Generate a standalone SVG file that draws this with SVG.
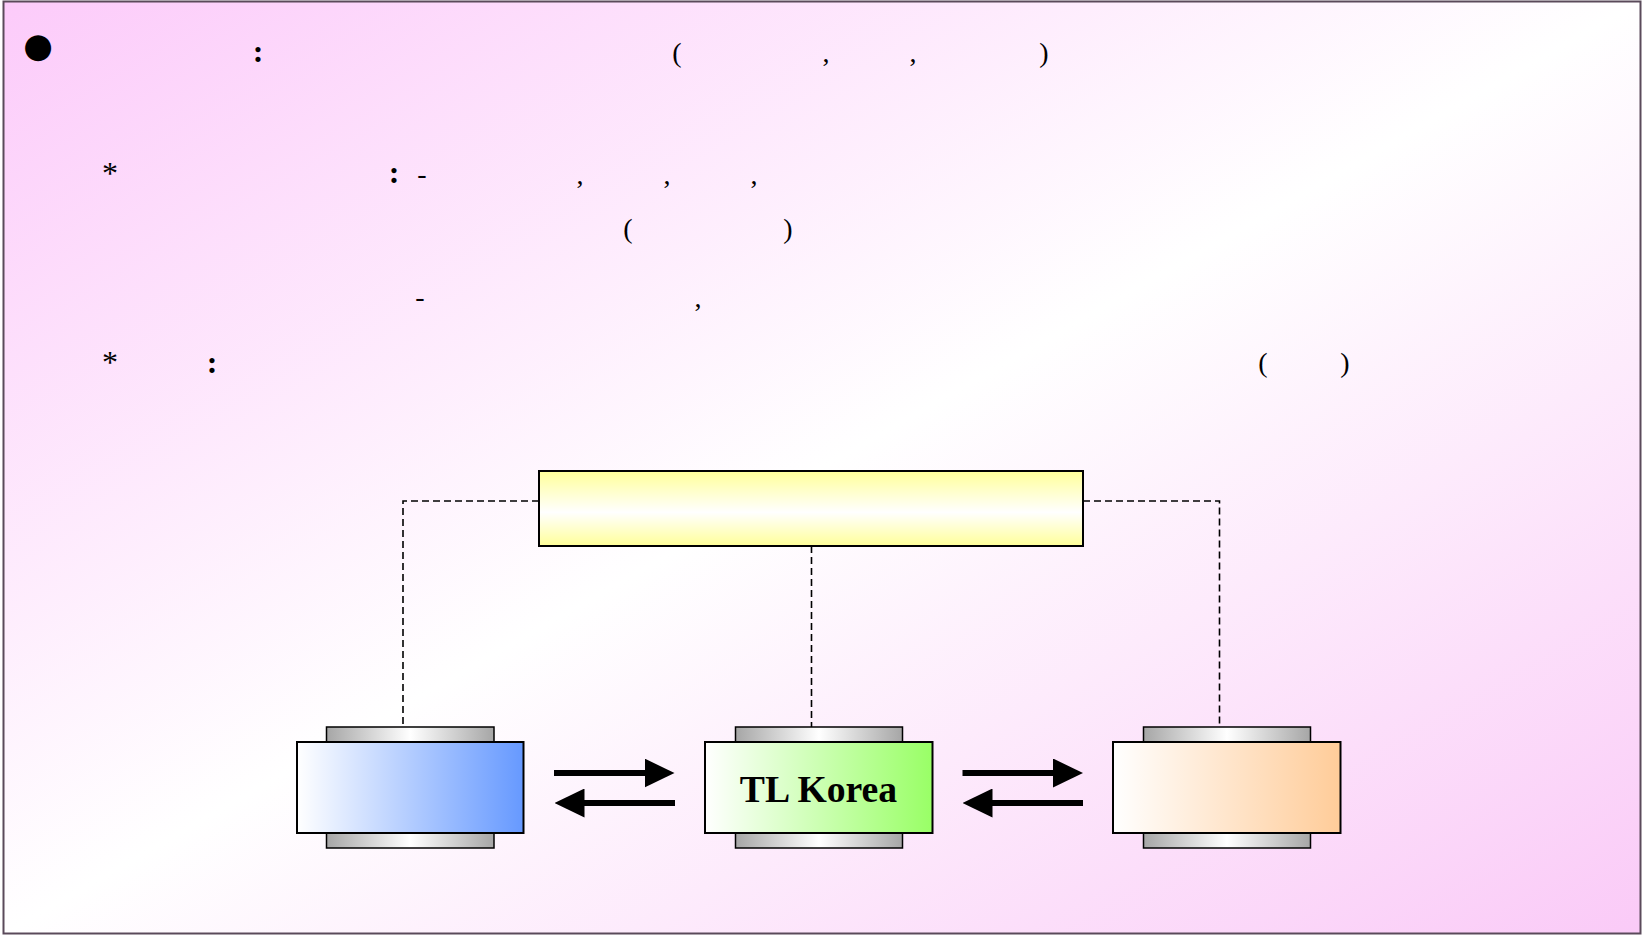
<svg xmlns="http://www.w3.org/2000/svg" width="1643" height="936" viewBox="0 0 1643 936">
  <style>
    .t { font-family: "Liberation Serif", "Noto Sans CJK KR", serif; font-size: 28px; fill: #000; text-anchor: middle; }
    .b { font-weight: bold; font-size: 32px; }
    .ast { font-size: 32px; }
    .box { stroke: #000; stroke-width: 2; }
    .cap { fill: url(#gCap); stroke: #000; stroke-width: 1.5; }
    .dash { fill: none; stroke: #000; stroke-width: 1.6; stroke-dasharray: 7 4; }
    .arr { fill: none; stroke: #000; stroke-width: 6; marker-end: url(#head); }
  </style>
  <defs>
    <linearGradient id="gBg" x1="0" y1="0" x2="1" y2="1">
      <stop offset="0" stop-color="#FCCBFA"/>
      <stop offset="0.5" stop-color="#FFFFFF"/>
      <stop offset="1" stop-color="#FACAF7"/>
    </linearGradient>
    <linearGradient id="gYellow" x1="0" y1="0" x2="0" y2="1">
      <stop offset="0" stop-color="#FFFF99"/>
      <stop offset="0.55" stop-color="#FFFFFF"/>
      <stop offset="1" stop-color="#FFFF99"/>
    </linearGradient>
    <linearGradient id="gBlue" x1="0" y1="0" x2="1" y2="0">
      <stop offset="0" stop-color="#FFFFFF"/>
      <stop offset="1" stop-color="#6699FF"/>
    </linearGradient>
    <linearGradient id="gGreen" x1="0" y1="0" x2="1" y2="0">
      <stop offset="0" stop-color="#FFFFFF"/>
      <stop offset="1" stop-color="#99FF66"/>
    </linearGradient>
    <linearGradient id="gOrange" x1="0" y1="0" x2="1" y2="0">
      <stop offset="0" stop-color="#FFFFFF"/>
      <stop offset="1" stop-color="#FFCC99"/>
    </linearGradient>
    <linearGradient id="gCap" x1="0" y1="0" x2="1" y2="0">
      <stop offset="0" stop-color="#A6A6A6"/>
      <stop offset="0.5" stop-color="#FFFFFF"/>
      <stop offset="1" stop-color="#A6A6A6"/>
    </linearGradient>
    <marker id="head" markerUnits="userSpaceOnUse" markerWidth="30" markerHeight="29" refX="1" refY="14.5" orient="auto" viewBox="0 0 30 29">
      <path d="M0,0 L30,14.5 L0,29 z" fill="#000"/>
    </marker>
  </defs>

  <rect x="0" y="0" width="1643" height="936" fill="#FFFFFF"/>
  <rect x="3.5" y="1.5" width="1637" height="932" fill="url(#gBg)" stroke="#5A4A5A" stroke-width="2"/>

  <g id="text">
    <text x="38" y="57" style="font-family: 'DejaVu Sans', sans-serif; font-size: 34px; text-anchor: middle;">●</text>
    <text class="t b" x="258" y="62">:</text>
    <text class="t" x="677" y="62">(</text>
    <text class="t" x="826" y="62">,</text>
    <text class="t" x="913" y="62">,</text>
    <text class="t" x="1044" y="62">)</text>

    <text class="t ast" x="110" y="184">*</text>
    <text class="t b" x="394" y="183">:</text>
    <text class="t" x="422" y="183">-</text>
    <text class="t" x="580" y="184">,</text>
    <text class="t" x="667" y="184">,</text>
    <text class="t" x="754" y="184">,</text>

    <text class="t" x="628" y="238">(</text>
    <text class="t" x="788" y="238">)</text>

    <text class="t" x="420" y="306">-</text>
    <text class="t" x="698" y="307">,</text>

    <text class="t ast" x="110" y="373">*</text>
    <text class="t b" x="212" y="373">:</text>
    <text class="t" x="1263" y="372">(</text>
    <text class="t" x="1345" y="372">)</text>
  </g>

  <g id="connectors">
    <path class="dash" d="M539,501 H403 V727"/>
    <path class="dash" d="M811.5,546 V727"/>
    <path class="dash" d="M1083,501 H1219.5 V727"/>
    <path class="arr" d="M554,773 H645.5"/>
    <path class="arr" d="M675,803 H583.5"/>
    <path class="arr" d="M962.5,773 H1054"/>
    <path class="arr" d="M1083,803 H991.5"/>
  </g>

  <g id="node-top">
    <rect class="box" x="539" y="471" width="544" height="75" fill="url(#gYellow)"/>
  </g>

  <g id="node-left">
    <rect class="cap" x="326.5" y="727" width="167.5" height="15"/>
    <rect class="cap" x="326.5" y="833" width="167.5" height="15"/>
    <rect class="box" x="297" y="742" width="226.5" height="91" fill="url(#gBlue)"/>
  </g>

  <g id="node-center">
    <rect class="cap" x="735.5" y="727" width="167" height="15"/>
    <rect class="cap" x="735.5" y="833" width="167" height="15"/>
    <rect class="box" x="705" y="742" width="227.5" height="91" fill="url(#gGreen)"/>
    <text class="t" x="818.5" y="802" style="font-weight: bold; font-size: 37.7px;">TL Korea</text>
  </g>

  <g id="node-right">
    <rect class="cap" x="1143.5" y="727" width="167" height="15"/>
    <rect class="cap" x="1143.5" y="833" width="167" height="15"/>
    <rect class="box" x="1113" y="742" width="227.5" height="91" fill="url(#gOrange)"/>
  </g>
</svg>
